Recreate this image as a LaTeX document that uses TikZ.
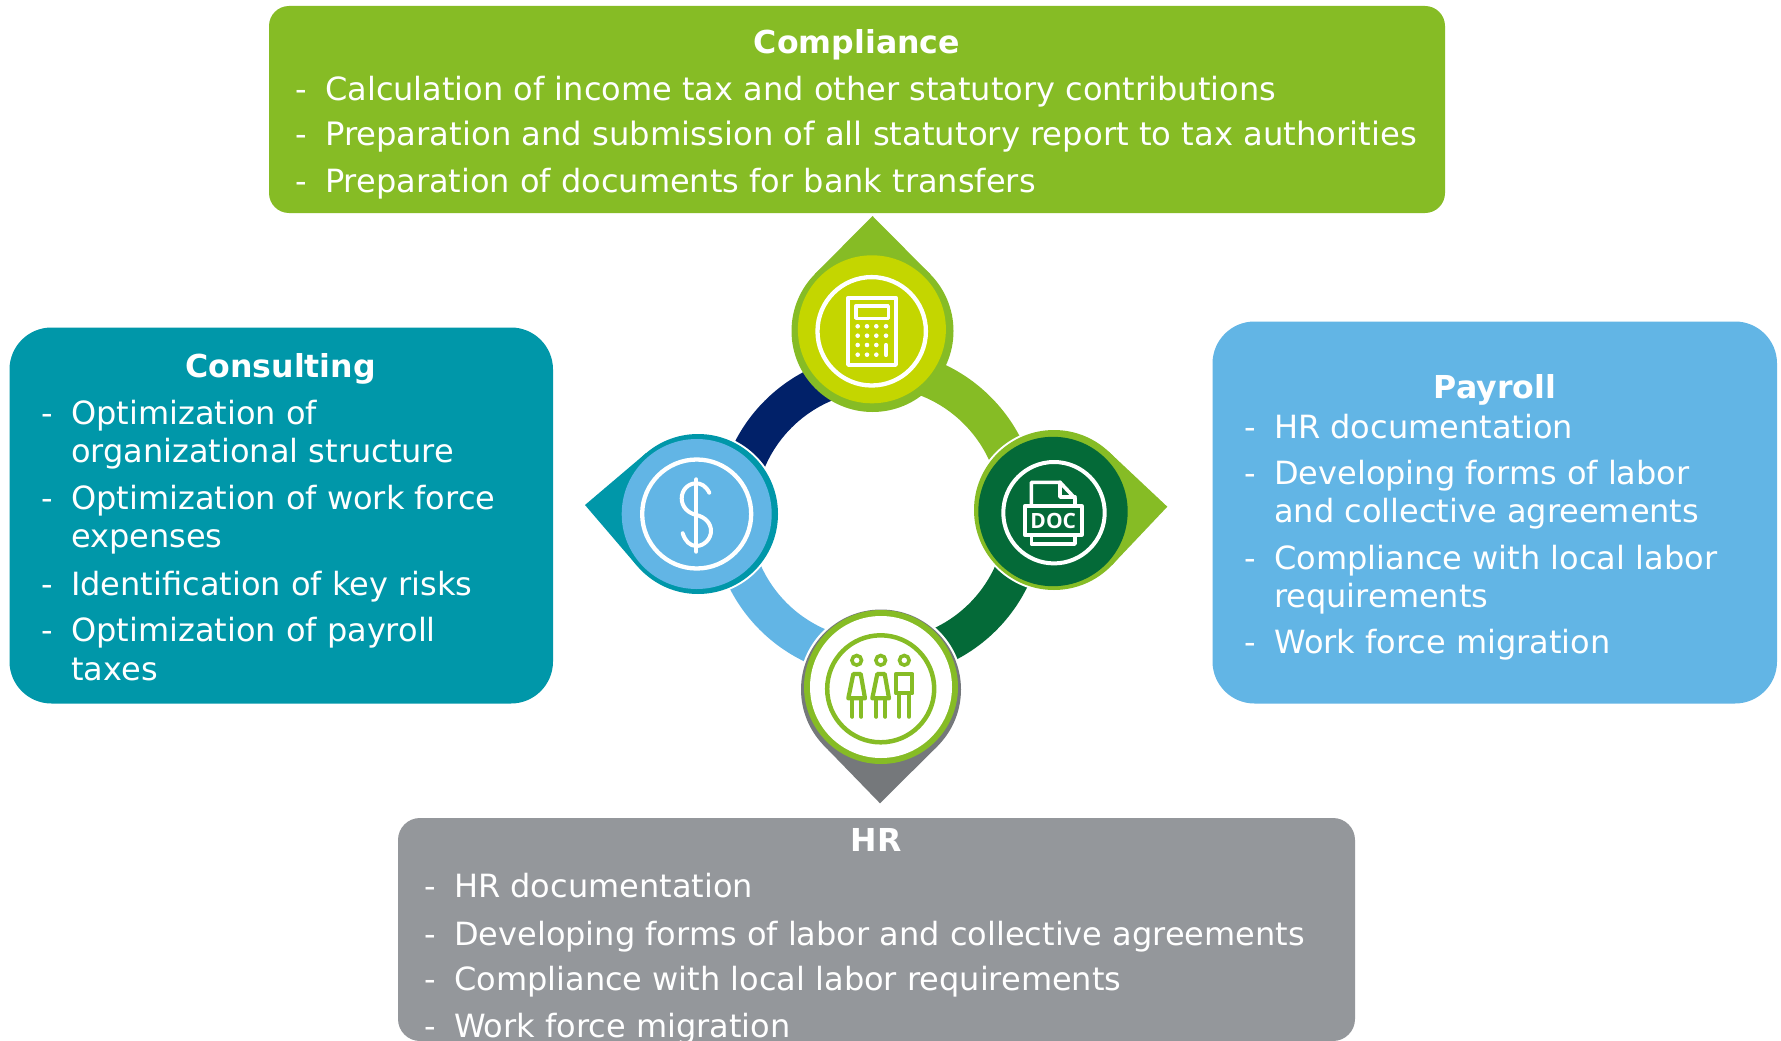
\documentclass[tikz,border=0pt]{standalone}
\usepackage{fontspec}
\setmainfont{DejaVu Sans}
\newfontfamily\docfont{Open Sans}
\usetikzlibrary{calc}
\definecolor{dgreen}{HTML}{86BC25}
\definecolor{dlime}{HTML}{C4D600}
\definecolor{dnavy}{HTML}{012169}
\definecolor{dforest}{HTML}{046A38}
\definecolor{dteal}{HTML}{0097A9}
\definecolor{dsky}{HTML}{62B5E5}
\definecolor{dgrey}{HTML}{94979B}
\definecolor{ddark}{HTML}{75787B}
\newcommand{\bodyfont}{\fontsize{32}{38}\selectfont}
\newcommand{\headfont}{\fontsize{31.6}{38}\selectfont\bfseries}
\tikzset{
  x=1pt,y=-1pt,
  itemtext/.style={text=white,anchor=base west,inner sep=0pt,font=\bodyfont},
  headtext/.style={text=white,anchor=base,inner sep=0pt,font=\headfont},
  disc/.style={circle,inner sep=0pt,outer sep=0pt,minimum size=#1*2pt},
  ico/.style={draw=white,line width=3.6pt,line join=round,line cap=round},
  ppl/.style={draw=dgreen,line width=4.2pt,line join=round,line cap=round},
  band/.style={line width=38pt}
}
\newcommand{\drop}[5]{%
  \node[disc=#4,fill=#1] (#2) at (#3) {};
  \coordinate (#2tip) at (#5);
  \fill[#1] (#2tip) -- (tangent cs:node=#2,point={(#2tip)},solution=1) -- (tangent cs:node=#2,point={(#2tip)},solution=2) -- cycle;
}
\newcommand{\lst}[4]{%
  \node[itemtext] (#1d) at (#2,#3) {-};
  \node[itemtext] (#1) at ($(#2,#3)+(30,0)$) {#4};
}
\begin{document}
\begin{tikzpicture}
\path[use as bounding box] (0,0) rectangle (1781,1041);
\clip (0,0) rectangle (1781,1041);
\fill[white] (0,0) rectangle (1781,1041);

% panels
\fill[dgreen] (269,6) [rounded corners=20pt] rectangle (1445,213);
\fill[dteal] (9.5,327.5) [rounded corners=42pt] rectangle (553,703.5);
\fill[dsky] (1212.5,321.5) [rounded corners=42pt] rectangle (1777,703.5);
\fill[dgrey] (398,818) [rounded corners=22pt] rectangle (1355,1041);

% ring
\coordinate (On) at (880,516);
\coordinate (Og) at (875,512.5);
\coordinate (Of) at (881,515);
\coordinate (Os) at (875,514.5);
\draw[band,dnavy] ([shift={(90:144pt)}]On) arc[start angle=90,end angle=180,radius=144pt];
\draw[band,dgreen] ([shift={(0:144.5pt)}]Og) arc[start angle=0,end angle=90,radius=144.5pt];
\draw[band,dforest] ([shift={(270:144pt)}]Of) arc[start angle=270,end angle=360,radius=144pt];
\draw[band,dsky] ([shift={(180:144pt)}]Os) arc[start angle=180,end angle=270,radius=144pt];

% halos
\node[disc=82,fill=white] (hl) at (698,514) {};
\node[disc=82,fill=white] (hr) at (1054,510) {};
\node[disc=82,fill=white] (hb) at (881,689) {};

% top
\drop{dgreen}{top}{872.5,331}{81}{872.5,216}
\node[disc=74,fill=dlime] (topin) at (871.9,329.3) {};
\node[disc=54.2,draw=white,line width=4.3pt] (topring) at (871.7,331.3) {};
\draw[ico] (848,297.7) rectangle (896,365);
\draw[ico] (856,305.7) rectangle (888.3,318.3);
\foreach \px in {857.7,867,876.3,886}{\foreach \py in {326.3,335.7}{\fill[white] (\px,\py) circle[radius=2.3pt];}}
\foreach \px in {857.7,867,876.3}{\foreach \py in {345,354.7}{\fill[white] (\px,\py) circle[radius=2.3pt];}}
\draw[ico,line width=4.2pt] (886,345) -- (886,355);

% right
\drop{dgreen}{right}{1054,510}{80}{1167.3,506.7}
\node[disc=74.7,fill=dforest] (rightin) at (1053,511.5) {};
\node[disc=50.7,draw=white,line width=4pt] (rightring) at (1054,512.7) {};
\draw[ico] (1031.3,506) -- (1031.3,482.3) -- (1060,482.3) -- (1075,498.3) -- (1075,506);
\draw[ico] (1060,482.3) -- (1060,497) -- (1075,497);
\draw[ico] (1024.7,506) rectangle (1081.7,535);
\draw[ico] (1031.3,535) -- (1031.3,544) -- (1075,544) -- (1075,535);
\node[text=white,font=\docfont\bfseries\fontsize{21}{21}\selectfont,inner sep=0pt] (doc) at (1053.3,520.7) {DOC};

% bottom
\drop{ddark}{bot}{881,689.5}{80}{880,803.3}
\node[disc=77,fill=dgreen] (botgreen) at (881,687) {};
\node[disc=71,fill=white] (botin) at (881,687) {};
\node[disc=53.5,draw=dgreen,line width=4.5pt] (botring) at (880.7,688.8) {};
\foreach \hx [count=\hi] in {856.7,880.7,904.3}{\node[disc=4.8,draw=dgreen,line width=3.6pt] (head\hi) at (\hx,660.3) {};}
\foreach \ox in {0,24}{
  \begin{scope}[shift={(\ox,0)}]
  \draw[ppl] (853.3,674) -- (860.7,674) -- (865,698.3) -- (848.3,698.3) -- cycle;
  \draw[ppl] (852.3,698.3) -- (852.3,716.7);
  \draw[ppl] (861.3,698.3) -- (861.3,716.7);
  \end{scope}
}
\draw[ppl] (896,674) rectangle (912.3,693.3);
\draw[ppl] (899.3,693.3) -- (899.3,716.7);
\draw[ppl] (909,693.3) -- (909,716.7);

% left
\drop{dteal}{left}{698,514}{80}{585,505}
\node[disc=75,fill=dsky] (leftin) at (696.7,514) {};
\node[disc=54.5,draw=white,line width=4.3pt] (leftring) at (696.7,514) {};
\draw[ico,line width=4pt] (696.3,479.3) -- (696.3,551.7);
\draw[ico,line width=4pt] (709.3,492.7) .. controls (706,486) and (701,483.3) .. (696.3,483.3)
  .. controls (688,483.3) and (681.7,490) .. (681.7,498.3)
  .. controls (681.7,507) and (688,513) .. (696.3,515)
  .. controls (705,517) and (711,523) .. (711,531)
  .. controls (711,539) and (704,546) .. (696.3,546)
  .. controls (690,546) and (685,541) .. (682.7,533.3);

% compliance
\node[headtext] (ctitle) at (857,53.5) {Compliance};
\lst{ca}{295}{100}{Calculation of income tax and other statutory contributions}
\lst{cb}{295}{145.5}{\fontsize{32.25}{38}\selectfont Preparation and submission of all statutory report to tax authorities}
\lst{cc}{295}{192}{Preparation of documents for bank transfers}

% consulting
\node[headtext] (ktitle) at (280.6,377.5) {Consulting};
\lst{ka}{41}{424}{Optimization of}
\node[itemtext] (kb) at (71,462) {organizational structure};
\lst{kc}{41}{509}{Optimization of work force}
\node[itemtext] (kd) at (71,547.5) {expenses};
\lst{ke}{41}{595}{Identification of key risks}
\lst{kf}{41}{641}{Optimization of payroll}
\node[itemtext] (kg) at (71,680) {taxes};

% payroll
\node[headtext] (ptitle) at (1495,398) {Payroll};
\lst{pa}{1244}{438}{HR documentation}
\lst{pb}{1244}{484}{Developing forms of labor}
\node[itemtext] (pc) at (1274,522) {and collective agreements};
\lst{pd}{1244}{569}{Compliance with local labor}
\node[itemtext] (pe) at (1274,607) {requirements};
\lst{pf}{1244}{653}{Work force migration}

% hr
\node[headtext] (htitle) at (876,851) {HR};
\lst{ha}{424}{897}{HR documentation}
\lst{hb}{424}{945}{Developing forms of labor and collective agreements}
\lst{hc}{424}{990.5}{Compliance with local labor requirements}
\lst{hd}{424}{1037.5}{Work force migration}
\end{tikzpicture}
\end{document}
